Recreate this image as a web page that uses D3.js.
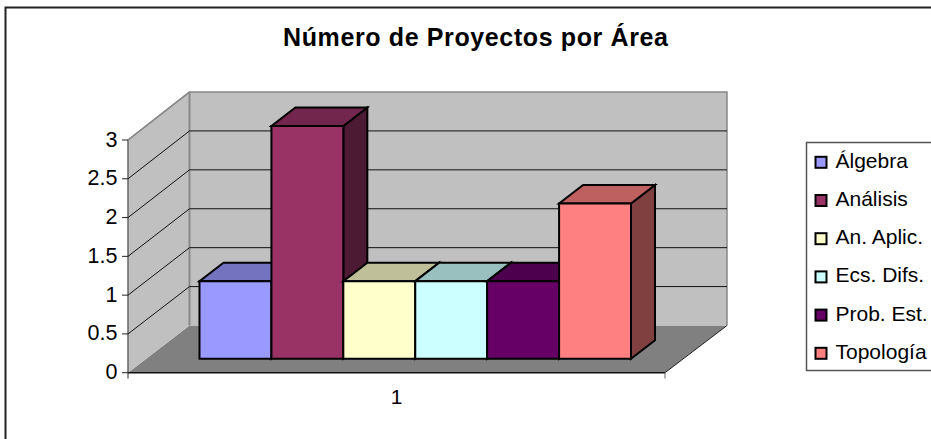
<!DOCTYPE html>
<html><head><meta charset="utf-8">
<script src="https://cdn.jsdelivr.net/npm/d3@7"></script>
<style>html,body{margin:0;padding:0;background:#fff}svg{display:block}text{font-family:"Liberation Sans",Arial,sans-serif;fill:#000}</style>
</head><body><div id="c"></div>
<script>
const title = "Número de Proyectos por Área";
const categories = ["1"];
const seriesNames = ["Álgebra","Análisis","An. Aplic.","Ecs. Difs.","Prob. Est.","Topología"];
const seriesValues = [1,3,1,1,1,2];
const seriesColors = ["#9999FF","#993366","#FFFFCC","#CCFFFF","#660066","#FF8080"];
const yTicks = [0,0.5,1,1.5,2,2.5,3];
const yTickLabels = ["0","0.5","1","1.5","2","2.5","3"];

const W=931,H=439;
const svg=d3.select("#c").append("svg").attr("width",W).attr("height",H);
// chart frame: bleeds off the right and bottom edges
svg.append("path").attr("d",`M${W+2},7.5H5.5V${H+2}`).attr("fill","none").attr("stroke","#222").attr("stroke-width",2);
svg.append("text").attr("x",475.5).attr("y",46).attr("text-anchor","middle").attr("font-size",25).attr("font-weight","bold").attr("textLength",385).attr("lengthAdjust","spacing").text(title);

const yFront=d3.scaleLinear().domain([0,3]).range([372.7,140]);
const yBack=d3.scaleLinear().domain([0,3]).range([325.5,92]);
const yBar=d3.scaleLinear().domain([0,3]).range([358.7,126]);
const xFront=d3.scaleLinear().domain([0,1]).range([128,665]);
const xBack=d3.scaleLinear().domain([0,1]).range([189.5,727]);
const xCat=d3.scaleBand().domain(categories).range([128,665]);
const xBar=d3.scaleBand().domain(seriesNames).range([199.5,631]);
const depthX=24,depthY=-18.5;
const line=d3.line();
const poly=(pts,fill,stroke,sw)=>svg.append("path").attr("d",line(pts)+"Z").attr("fill",fill).attr("stroke",stroke||"none").attr("stroke-width",sw||0).attr("stroke-linejoin","miter");
const seg=(pts,stroke,sw)=>svg.append("path").attr("d",line(pts)).attr("fill","none").attr("stroke",stroke).attr("stroke-width",sw);

// walls and floor
poly([[xFront(0),yFront(0)],[xBack(0),yBack(0)],[xBack(1),yBack(0)],[xFront(1),yFront(0)]],"#808080");
poly([[xBack(0),yBack(0)],[xBack(0),yBack(3)],[xBack(1),yBack(3)],[xBack(1),yBack(0)]],"#C0C0C0");
poly([[xFront(0),yFront(0)],[xFront(0),yFront(3)],[xBack(0),yBack(3)],[xBack(0),yBack(0)]],"#C0C0C0");
seg([[xFront(0),yFront(3)],[xBack(0),yBack(3)],[xBack(1),yBack(3)],[xBack(1),yBack(0)]],"#888",1.5);
seg([[xBack(0),yBack(0)],[xBack(0),yBack(3)]],"#888",2);
seg([[xFront(0),yFront(3)],[xFront(0),yFront(0)]],"#666",1.5);
seg([[xFront(1),yFront(0)],[xBack(1),yBack(0)]],"#222",1);

// gridlines
yTicks.filter(v=>v>0&&v<3).forEach(v=>{
  seg([[xFront(0),yFront(v)],[xBack(0),yBack(v)],[xBack(1),yBack(v)]],"#111",1);
});
seg([[xFront(0),yFront(3)],[xBack(0),yBack(3)]],"#888",1.5);

// axes
seg([[xFront(0),yFront(0)],[xFront(1),yFront(0)]],"#111",1.5);
seg([[xFront(0),yFront(0)],[xFront(0),378.5]],"#222",1);
seg([[xFront(1),yFront(0)],[xFront(1),378.5]],"#666",1);
yTicks.forEach((v,i)=>{
  seg([[122,yFront(v)],[xFront(0),yFront(v)]],"#222",1);
  svg.append("text").attr("x",117.5).attr("y",yFront(v)+6.5).attr("text-anchor","end").attr("font-size",21.5).text(yTickLabels[i]);
});
categories.forEach(c=>{
  svg.append("text").attr("x",xCat(c)+xCat.bandwidth()/2).attr("y",404).attr("text-anchor","middle").attr("font-size",21).text(c);
});

// bars
const shade=(c,k)=>{const r=d3.rgb(c);return d3.rgb(r.r*k,r.g*k,r.b*k).formatHex();};
seriesNames.forEach((s,i)=>{
  const v=seriesValues[i],col=seriesColors[i];
  const x0=xBar(s),x1=x0+xBar.bandwidth(),yt=yBar(v),yb=yBar(0);
  poly([[x1,yb],[x1,yt],[x1+depthX,yt+depthY],[x1+depthX,yb+depthY]],shade(col,0.5),"#000",2);
  poly([[x0,yt],[x1,yt],[x1+depthX,yt+depthY],[x0+depthX,yt+depthY]],shade(col,0.75),"#000",2);
  poly([[x0,yb],[x0,yt],[x1,yt],[x1,yb]],col,"#000",2);
});

// legend
svg.append("path").attr("d",`M${W+2},142.5H806.5V370.5H${W+2}`).attr("fill","#fff").attr("stroke","#555").attr("stroke-width",1.5);
const yLeg=d3.scalePoint().domain(seriesNames).range([162.3,353.3]);
seriesNames.forEach((s,i)=>{
  svg.append("rect").attr("x",815.5).attr("y",yLeg(s)-5.5).attr("width",11).attr("height",11).attr("fill",seriesColors[i]).attr("stroke","#000").attr("stroke-width",2);
  svg.append("text").attr("x",835.5).attr("y",yLeg(s)+5.5).attr("font-size",21).text(s);
});
</script></body></html>
